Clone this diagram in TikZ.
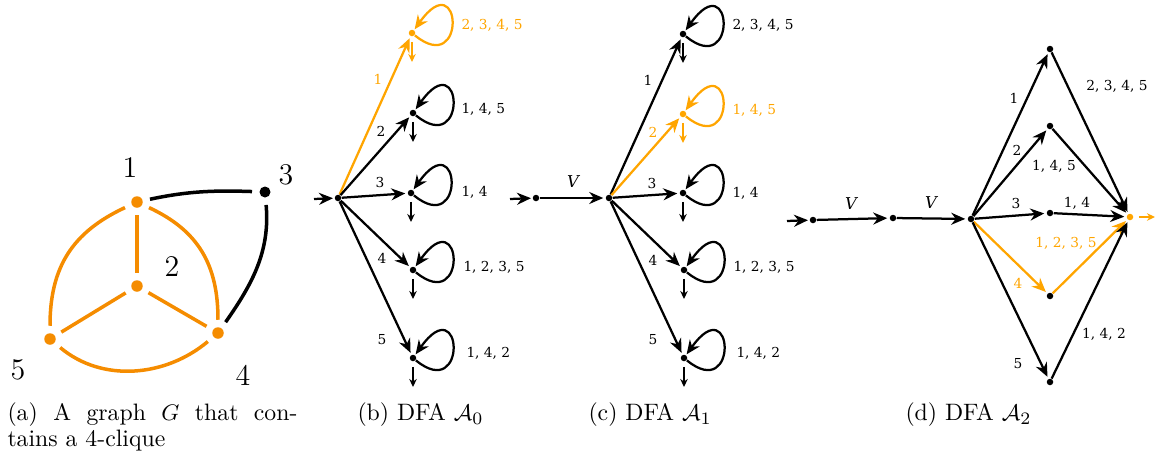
\documentclass[tikz,border=0pt]{standalone}
\usepackage{fontspec}
\usepackage{amsmath}
\newfontfamily\lblfont{DejaVu Serif}
\usetikzlibrary{arrows.meta}
\definecolor{gor}{RGB}{245,140,0}
\definecolor{dor}{RGB}{255,165,0}
\begin{document}
\begin{tikzpicture}[x=0.4pt,y=0.4pt,
  dot/.style={circle,fill,inner sep=0pt,minimum size=2.6pt},
  gdot/.style={circle,fill=gor,inner sep=0pt,minimum size=4.6pt},
  gedge/.style={line width=1.4pt,gor,shorten >=2.8pt,shorten <=2.8pt},
  bedge/.style={line width=1.4pt,black,shorten >=2.8pt,shorten <=2.8pt},
  glab/.style={font=\fontsize{12}{14}\selectfont,inner sep=0pt},
  arr/.style={line width=0.9pt,-{Stealth[length=5.6pt,width=4.8pt]},shorten >=0.8pt},
  farr/.style={line width=0.8pt,-{Stealth[length=3.2pt,width=3pt]}},
  lbl/.style={font=\lblfont\fontsize{5.5}{6}\selectfont,inner sep=0pt},
  vlbl/.style={font=\lblfont\itshape\fontsize{6.5}{7}\selectfont,inner sep=0pt},
  captxt/.style={font=\fontsize{9.5}{11.5}\selectfont,inner sep=0pt,anchor=west},
  ]
\useasboundingbox (0,0) rectangle (1156,-454);
\newcommand{\dfaloop}[2]{\draw[arr,#2,shorten >=0.3pt] (#1) .. controls +(55,-45) and +(50,70) .. (#1);}
\newcommand{\dfafinal}[2]{\path (#1) ++(0,-29) coordinate (#1e);\draw[farr,#2,shorten <=2pt] (#1) -- (#1e);}

% ---------- (a) graph
\node[gdot] (g1) at (137,-202) {};
\node[gdot] (g2) at (137,-286) {};
\node[circle,fill,inner sep=0pt,minimum size=4.4pt] (g3) at (265,-192) {};
\node[gdot] (g4) at (218,-333) {};
\node[gdot] (g5) at (50,-339) {};
\node[glab] at (130,-168) {1};
\node[glab] at (172,-267) {2};
\node[glab] at (286,-175) {3};
\node[glab] at (243,-375) {4};
\node[glab] at (18,-370) {5};
\draw[gedge] (g1) -- (g2);
\draw[gedge] (g2) -- (g5);
\draw[gedge] (g2) -- (g4);
\draw[gedge] (g1) to[out=205,in=90,looseness=1.1] (g5);
\draw[gedge] (g1) to[out=-25,in=90,looseness=1.1] (g4);
\draw[gedge] (g5) to[out=-40,in=-140] (g4);
\draw[bedge] (g1) to[out=12,in=178] (g3);
\draw[bedge] (g3) to[out=-85,in=55] (g4);

% ---------- (b) DFA A0
\node[dot] (s0) at (338,-198) {};
\coordinate (b0) at (314,-199);
\draw[arr,shorten >=0.5pt] (b0) -- (s0);
\node[dot,dor] (bq1) at (412,-33) {};
\node[dot] (bq2) at (413,-113) {};
\node[dot] (bq3) at (411,-193) {};
\node[dot] (bq4) at (413,-270) {};
\node[dot] (bq5) at (413,-358) {};
\draw[arr,dor] (s0) -- (bq1);
\draw[arr] (s0) -- (bq2);
\draw[arr] (s0) -- (bq3);
\draw[arr] (s0) -- (bq4);
\draw[arr] (s0) -- (bq5);
\node[lbl,dor] at (378,-79) {1};
\node[lbl] at (381,-131) {2};
\node[lbl] at (380,-182) {3};
\node[lbl] at (382,-258) {4};
\node[lbl] at (382,-340) {5};
\dfaloop{bq1}{dor}\dfaloop{bq2}{}\dfaloop{bq3}{}\dfaloop{bq4}{}\dfaloop{bq5}{}
\dfafinal{bq1}{dor}\dfafinal{bq2}{}\dfafinal{bq3}{}\dfafinal{bq4}{}\dfafinal{bq5}{}
\node[lbl,dor,anchor=west] at (461,-25) {2, 3, 4, 5};
\node[lbl,anchor=west] at (461,-109) {1, 4, 5};
\node[lbl,anchor=west] at (461,-192) {1, 4};
\node[lbl,anchor=west] at (463,-267) {1, 2, 3, 5};
\node[lbl,anchor=west] at (466,-353) {1, 4, 2};

% ---------- (c) DFA A1
\node[dot] (p0) at (536,-198) {};
\coordinate (c0) at (510,-199);
\draw[arr,shorten >=0.5pt] (c0) -- (p0);
\node[dot] (s1) at (609,-198) {};
\draw[arr] (p0) -- (s1);
\node[vlbl] at (573,-182) {V};
\node[dot] (cq1) at (683,-34) {};
\node[dot,dor] (cq2) at (683,-114) {};
\node[dot] (cq3) at (683,-193) {};
\node[dot] (cq4) at (684,-270) {};
\node[dot] (cq5) at (684,-358) {};
\draw[arr] (s1) -- (cq1);
\draw[arr,dor] (s1) -- (cq2);
\draw[arr] (s1) -- (cq3);
\draw[arr] (s1) -- (cq4);
\draw[arr] (s1) -- (cq5);
\node[lbl] at (648,-80) {1};
\node[lbl,dor] at (653,-132) {2};
\node[lbl] at (652,-183) {3};
\node[lbl] at (653,-260) {4};
\node[lbl] at (653,-340) {5};
\dfaloop{cq1}{}\dfaloop{cq2}{dor}\dfaloop{cq3}{}\dfaloop{cq4}{}\dfaloop{cq5}{}
\dfafinal{cq1}{}\dfafinal{cq2}{dor}\dfafinal{cq3}{}\dfafinal{cq4}{}\dfafinal{cq5}{}
\node[lbl,anchor=west] at (732,-25) {2, 3, 4, 5};
\node[lbl,dor,anchor=west] at (732,-110) {1, 4, 5};
\node[lbl,anchor=west] at (732,-193) {1, 4};
\node[lbl,anchor=west] at (733,-267) {1, 2, 3, 5};
\node[lbl,anchor=west] at (736,-353) {1, 4, 2};

% ---------- (d) DFA A2
\node[dot] (da) at (813,-220) {};
\coordinate (d0) at (787,-221);
\draw[arr,shorten >=0.5pt] (d0) -- (da);
\node[dot] (db) at (893,-218) {};
\node[dot] (dc) at (971,-219) {};
\draw[arr] (da) -- (db);
\draw[arr] (db) -- (dc);
\node[vlbl] at (851,-204) {V};
\node[vlbl] at (931,-203) {V};
\node[dot] (r1) at (1050,-49) {};
\node[dot] (r2) at (1050,-126) {};
\node[dot] (r3) at (1050,-213) {};
\node[dot] (r4) at (1050,-296) {};
\node[dot] (r5) at (1050,-382) {};
\node[dot,dor] (df) at (1130,-217) {};
\draw[arr] (dc) -- (r1);
\draw[arr] (dc) -- (r2);
\draw[arr] (dc) -- (r3);
\draw[arr,dor] (dc) -- (r4);
\draw[arr] (dc) -- (r5);
\draw[arr] (r1) -- (df);
\draw[arr] (r2) -- (df);
\draw[arr] (r3) -- (df);
\draw[arr,dor] (r4) -- (df);
\draw[arr] (r5) -- (df);
\coordinate (dfe) at (1155,-217);
\draw[farr,dor,shorten <=2pt] (df) -- (dfe);
\node[lbl] at (1014,-98) {1};
\node[lbl] at (1017,-150) {2};
\node[lbl] at (1016,-203) {3};
\node[lbl,dor] at (1018,-283) {4};
\node[lbl] at (1018,-364) {5};
\node[lbl] at (1117,-86) {2, 3, 4, 5};
\node[lbl] at (1054,-166) {1, 4, 5};
\node[lbl] at (1077,-203) {1, 4};
\node[lbl,dor] at (1066,-243) {1, 2, 3, 5};
\node[lbl] at (1104,-334) {1, 4, 2};

% ---------- captions
\node[captxt] at (7,-415) {\makebox[116pt][s]{(a) A graph $G$ that con-}};
\node[captxt] at (7,-441) {tains a 4-clique};
\node[captxt] at (357,-415) {(b) DFA $\mathcal{A}_0$};
\node[captxt] at (588,-415) {(c) DFA $\mathcal{A}_1$};
\node[captxt] at (905,-415) {(d) DFA $\mathcal{A}_2$};
\end{tikzpicture}
\end{document}
